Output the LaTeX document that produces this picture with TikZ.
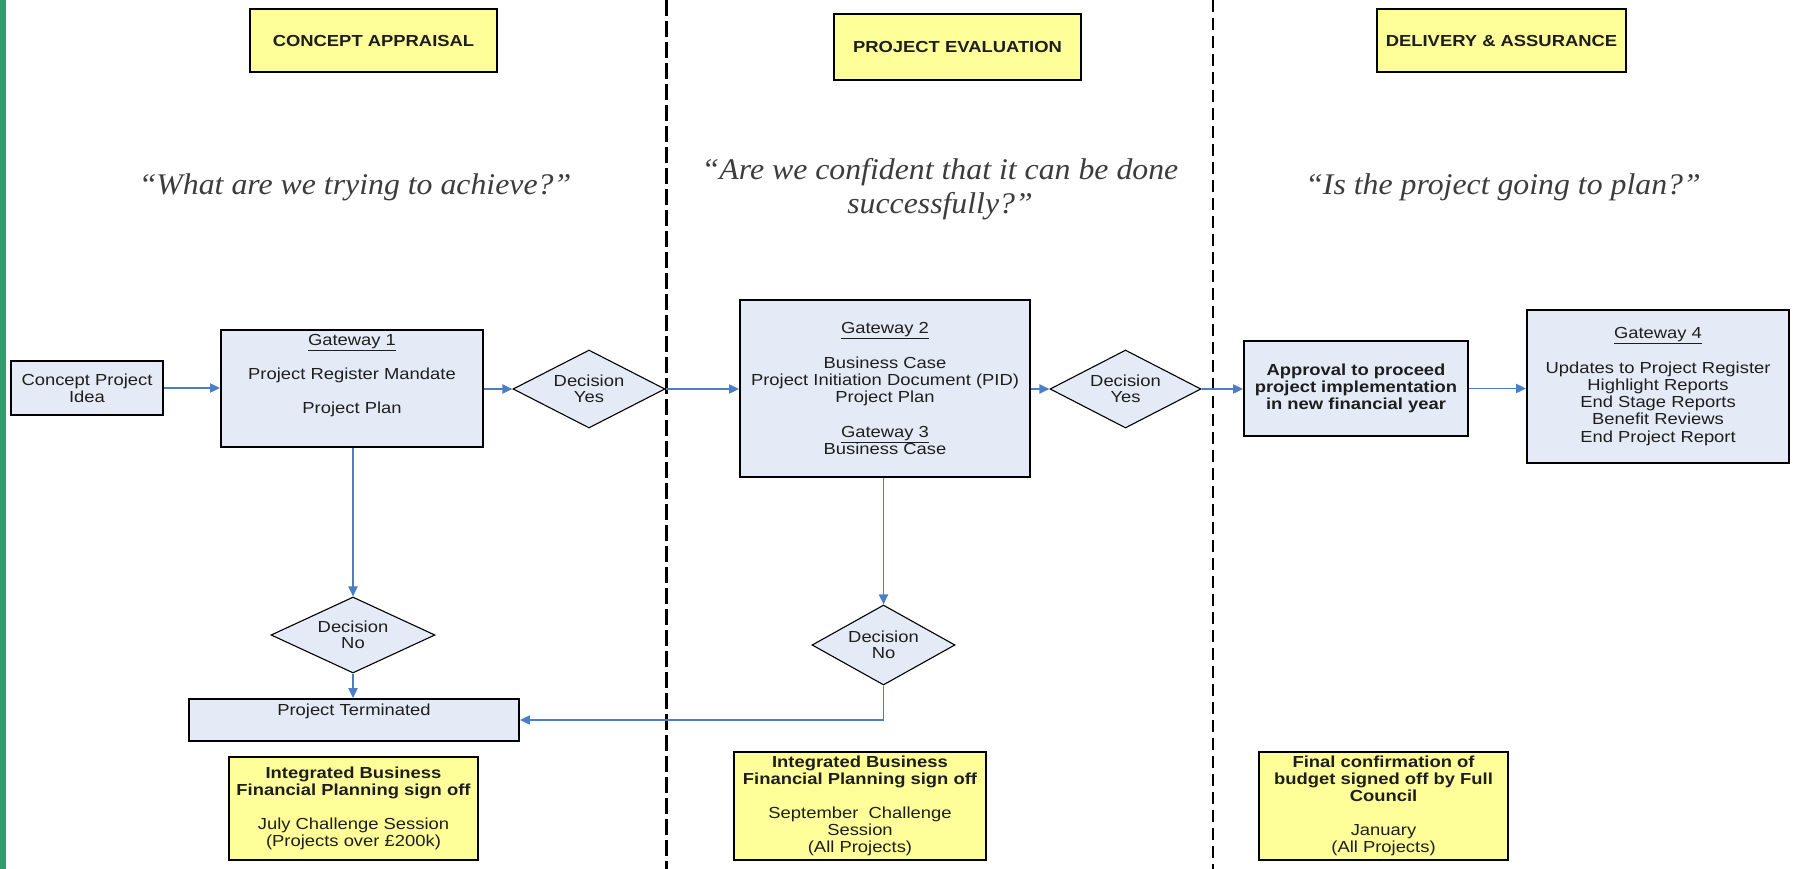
\documentclass[tikz,border=0pt]{standalone}
\usepackage{fontspec}
\setmainfont{Liberation Sans}
\newfontfamily\boxfont[FakeStretch=1.15]{Liberation Sans}
\newfontfamily\quotefont[FakeStretch=1.06]{Liberation Serif}
\usetikzlibrary{shapes.geometric,arrows.meta}
\definecolor{boxfill}{RGB}{229,235,246}
\definecolor{yel}{RGB}{255,255,153}
\definecolor{arrowblue}{RGB}{74,126,200}
\definecolor{barGreen}{RGB}{46,158,110}
\definecolor{quotegray}{RGB}{60,60,60}
\definecolor{txtc}{RGB}{30,30,30}
\tikzset{
  box/.style={draw=black, line width=1.8pt, fill=boxfill, inner sep=0pt, align=center, text=txtc,
    font=\boxfont\fontsize{16}{17.2}\selectfont},
  ybox/.style={box, fill=yel},
  hbox/.style={ybox, font=\boxfont\bfseries\fontsize{16}{17}\selectfont},
  txt/.style={align=center, inner sep=0pt, text=txtc, font=\boxfont\fontsize{16}{17.2}\selectfont},
  dec/.style={diamond, draw=black, line width=1.1pt, fill=boxfill, inner sep=0pt, aspect=2,
    align=center, text=txtc, font=\boxfont\fontsize{16}{16.5}\selectfont},
  qt/.style={align=center, inner sep=0pt, text=quotegray, font=\quotefont\itshape\fontsize{30}{34}\selectfont},
  conn/.style={draw=arrowblue, line width=1.9pt, -{Triangle[length=10pt,width=9pt]}},
}
\begin{document}
\begin{tikzpicture}[x=1pt,y=-1pt]
\useasboundingbox (0,0) rectangle (1798,869);
\fill[barGreen] (0,0) rectangle (6,869);
\draw[line width=3pt, dash pattern=on 16pt off 5pt] (666,0) -- (666,869);
\draw[line width=1.8pt, dash pattern=on 12pt off 6pt] (1213,0) -- (1213,869);

% headers
\node[hbox, minimum width=247pt, minimum height=63pt] (h1) at (373.5,40.5) {CONCEPT APPRAISAL};
\node[hbox, minimum width=247pt, minimum height=66pt] (h2) at (957.5,47) {PROJECT EVALUATION};
\node[hbox, minimum width=249pt, minimum height=63pt] (h3) at (1501.5,40.5) {DELIVERY \& ASSURANCE};

% quotes
\node[qt] (q1) at (355,187) {“What are we trying to achieve?”};
\node[qt] (q2) at (940,189) {“Are we confident that it can be done\\successfully?”};
\node[qt] (q3) at (1503,187) {“Is the project going to plan?”};

% main row
\node[box, minimum width=152pt, minimum height=54pt] (idea) at (87,388) {Concept Project\\Idea};
\node[box, minimum width=262pt, minimum height=117pt] (g1) at (352,388.5) {};
\node[txt] (g1t) at (352,375.5) {\underline{Gateway 1}\\[17.2pt]Project Register Mandate\\[17.2pt]Project Plan};
\node[dec, minimum width=152pt, minimum height=78pt] (y1) at (589,389) {Decision\\Yes};
\node[box, minimum width=290pt, minimum height=177pt] (g2) at (885,388.5) {\underline{Gateway 2}\\[17.2pt]Business Case\\Project Initiation Document (PID)\\Project Plan\\[17.2pt]\underline{Gateway 3}\\Business Case};
\node[dec, minimum width=151pt, minimum height=78pt] (y2) at (1125.5,389) {Decision\\Yes};
\node[box, minimum width=224pt, minimum height=95pt, font=\boxfont\bfseries\fontsize{16}{17.2}\selectfont] (appr) at (1356,388.5) {Approval to proceed\\project implementation\\in new financial year};
\node[box, minimum width=262pt, minimum height=153pt] (g4) at (1658,386.5) {\underline{Gateway 4}\\[17.2pt]Updates to Project Register\\Highlight Reports\\End Stage Reports\\Benefit Reviews\\End Project Report};

% lower row
\node[dec, minimum width=164pt, minimum height=76pt] (n1) at (353,635) {Decision\\No};
\node[box, minimum width=330pt, minimum height=42pt] (term) at (354,720) {};
\node[txt] (termt) at (354,711) {Project Terminated};
\node[dec, minimum width=143pt, minimum height=80pt] (n2) at (883.5,645) {Decision\\No};

% yellow boxes
\node[ybox, minimum width=249pt, minimum height=103pt] (s1) at (353.5,808.5) {\textbf{Integrated Business}\\\textbf{Financial Planning sign off}\\[16.9pt]July Challenge Session\\(Projects over £200k)};
\node[ybox, minimum width=252pt, minimum height=108pt] (s2) at (860,806) {\textbf{Integrated Business}\\\textbf{Financial Planning sign off}\\[16.9pt]September\ \ Challenge\\Session\\(All Projects)};
\node[ybox, minimum width=249pt, minimum height=108pt] (s3) at (1383.5,806) {\textbf{Final confirmation of}\\\textbf{budget signed off by Full}\\\textbf{Council}\\[16.9pt]January\\(All Projects)};

% connectors
\draw[conn] (idea.east) -- (idea.east -| g1.west);
\draw[conn] (g1.east |- y1.west) -- (y1.west);
\draw[conn] (y1.east) -- (y1.east -| g2.west);
\draw[conn] (g2.east |- y2.west) -- (y2.west);
\draw[conn] (y2.east) -- (y2.east -| appr.west);
\draw[conn] (appr.east) -- (appr.east -| g4.west);
\draw[conn] (n1.north |- g1.south) -- (n1.north);
\draw[conn] (n1.south) -- (n1.south |- term.north);
\draw[conn] (n2.north |- g2.south) -- (n2.north);
\draw[conn] (n2.south) |- (term.east);
\end{tikzpicture}
\end{document}
